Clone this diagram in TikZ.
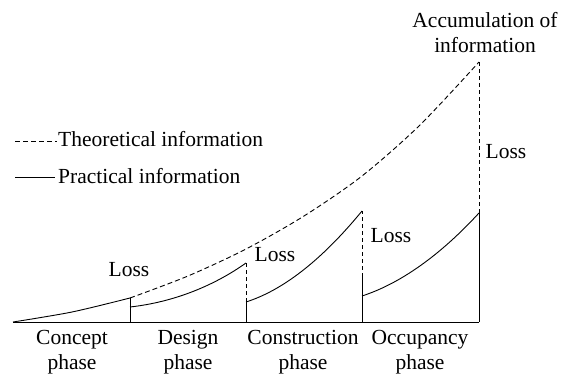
\documentclass[tikz,border=0pt]{standalone}
\usepackage{fontspec}
\setmainfont{Liberation Serif}
\usepackage{tikz}
\usetikzlibrary{positioning}
\usetikzlibrary{calc}

\begin{document}
\begin{tikzpicture}[x=1pt,y=-1pt,practical/.style={line width=0.9pt},theoretical/.style={line width=0.9pt,dash pattern=on 5pt off 3pt},lbl/.style={font=\fontsize{21.5}{25}\selectfont,inner sep=0pt},phase/.style={lbl,align=center}]
            \useasboundingbox (0,0) rectangle (568,374);
            % phase borders on the time axis
            \coordinate (o) at (13,322);
            \coordinate (b1) at (130,322);
            \coordinate (b2) at (246,322);
            \coordinate (b3) at (362,322);
            \coordinate (b4) at (479,322);
            \draw[practical] (o) -- (b4);
            % theoretical information
            \draw[practical] plot[smooth] coordinates {(13,322) (72,312) (130,298)};
            \draw[theoretical] plot[smooth] coordinates {(130,298) (188,276) (246,249) (304,216) (362,176) (420,125) (479,62)};
            % practical information, one curve per phase
            \draw[practical] (130,307) .. controls (175,302) and (215,285) .. (246,263);
            \draw[practical] (246,302) .. controls (290,288) and (330,250) .. (362,211);
            \draw[practical] (362,296) .. controls (405,282) and (445,250) .. (479,213);
            % losses between the phases
            \draw[practical] (b1) -- (130,298);
            \draw[practical] (b2) -- (246,302);
            \draw[theoretical,dash pattern=on 4pt off 3pt] (246,302) -- (246,263);
            \draw[practical] (b3) -- (362,277);
            \draw[theoretical,dash pattern=on 4pt off 3pt] (362,277) -- (362,211);
            \draw[practical] (b4) -- (479,213);
            \draw[theoretical,dash pattern=on 4pt off 3pt] (479,213) -- (479,62);
            \begin{scope}[every node/.style={lbl}]
              \node (loss1) at (129,270) {Loss};
              \node (loss2) at (275,255) {Loss};
              \node (loss3) at (391,236) {Loss};
              \node (loss4) at (506,152) {Loss};
              \node[align=center] (acc) at (485,33) {Accumulation of\\information};
              % legend
              \coordinate (th1) at (15,141);
              \coordinate (th2) at (57,141);
              \coordinate (pr1) at (15,177);
              \coordinate (pr2) at (55,177);
              \draw[theoretical] (th1) -- (th2);
              \draw[practical] (pr1) -- (pr2);
              \node[anchor=base west] (theo) at (58,147) {Theoretical information};
              \node[anchor=base west] (prac) at (58,184) {Practical information};
            \end{scope}
            % phase names
            \begin{scope}[every node/.style={phase}]
              \node (concept) at (72,352.5) {Concept\\phase};
              \node (design) at (188,352.5) {Design\\phase};
              \node (construction) at (303,352.5) {Construction\\phase};
              \node (occupancy) at (420,352.5) {Occupancy\\phase};
            \end{scope}
          \end{tikzpicture}
\end{document}
